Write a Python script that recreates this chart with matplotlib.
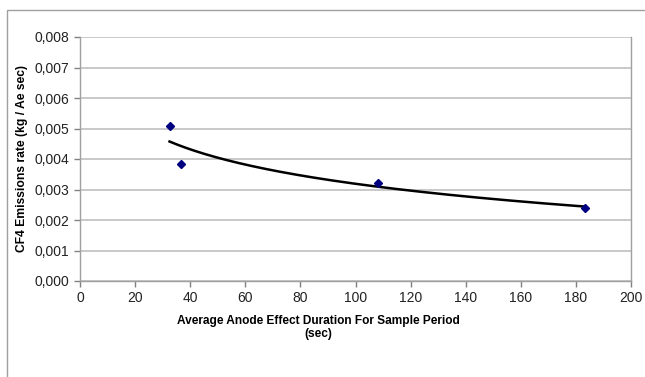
import numpy as np
import matplotlib.pyplot as plt
from matplotlib.ticker import FuncFormatter
from matplotlib.patches import Rectangle

plt.rcParams['font.family'] = ['Liberation Sans', 'DejaVu Sans']

# data
duration = np.array([32.5, 36.7, 108.0, 183.3])
cf4_rate = np.array([0.00508, 0.00384, 0.00321, 0.00240])
x_ticks = np.arange(0, 201, 20)
y_ticks = np.arange(0, 0.0081, 0.001)

# logarithmic trend line (Excel style): y = a + b*ln(x)
b, a = np.polyfit(np.log(duration), cf4_rate, 1)
x_fit = np.linspace(duration.min(), duration.max(), 200)
y_fit = a + b * np.log(x_fit)

fig = plt.figure(figsize=(6.45, 3.77), dpi=100)
fig.patches.append(Rectangle((7 / 645, -0.1), 1.2, 1 - 10 / 377 + 0.1,
                             transform=fig.transFigure, fill=False,
                             edgecolor='#a0a0a0', linewidth=1.0))

ax = fig.add_axes([80 / 645, 1 - 281 / 377, 551 / 645, 244 / 377])
ax.plot(x_fit, y_fit, color='black', linewidth=1.8, zorder=3)
ax.plot(duration, cf4_rate, linestyle='none', marker='D', markersize=3.8,
        color='#000080', zorder=4)

ax.set_xlim(0, 200)
ax.set_ylim(0, 0.008)
ax.set_xticks(x_ticks)
ax.set_yticks(y_ticks)
ax.yaxis.set_major_formatter(FuncFormatter(lambda v, p: f'{v:.3f}'.replace('.', ',')))
ax.tick_params(labelsize=10, color='#808080', length=4, width=1, colors='#222222')
ax.tick_params(color='#808080')
ax.grid(axis='y', color='#c0c0c0', linewidth=1.2)
ax.set_axisbelow(True)
for side in ['left', 'bottom', 'right']:
    ax.spines[side].set_color('#a0a0a0')
    ax.spines[side].set_linewidth(1.0)
ax.spines['top'].set_visible(False)

ax.set_ylabel('CF4 Emissions rate (kg / Ae sec)', fontsize=8.7, fontweight='bold', labelpad=5)
ax.set_xlabel('Average Anode Effect Duration For Sample Period\n(sec)', fontsize=8.6,
              fontweight='bold', labelpad=10, linespacing=1.05)
ax.xaxis.set_label_coords((318 - 80) / 551, -0.14)

fig.savefig('out.png', dpi=100)
